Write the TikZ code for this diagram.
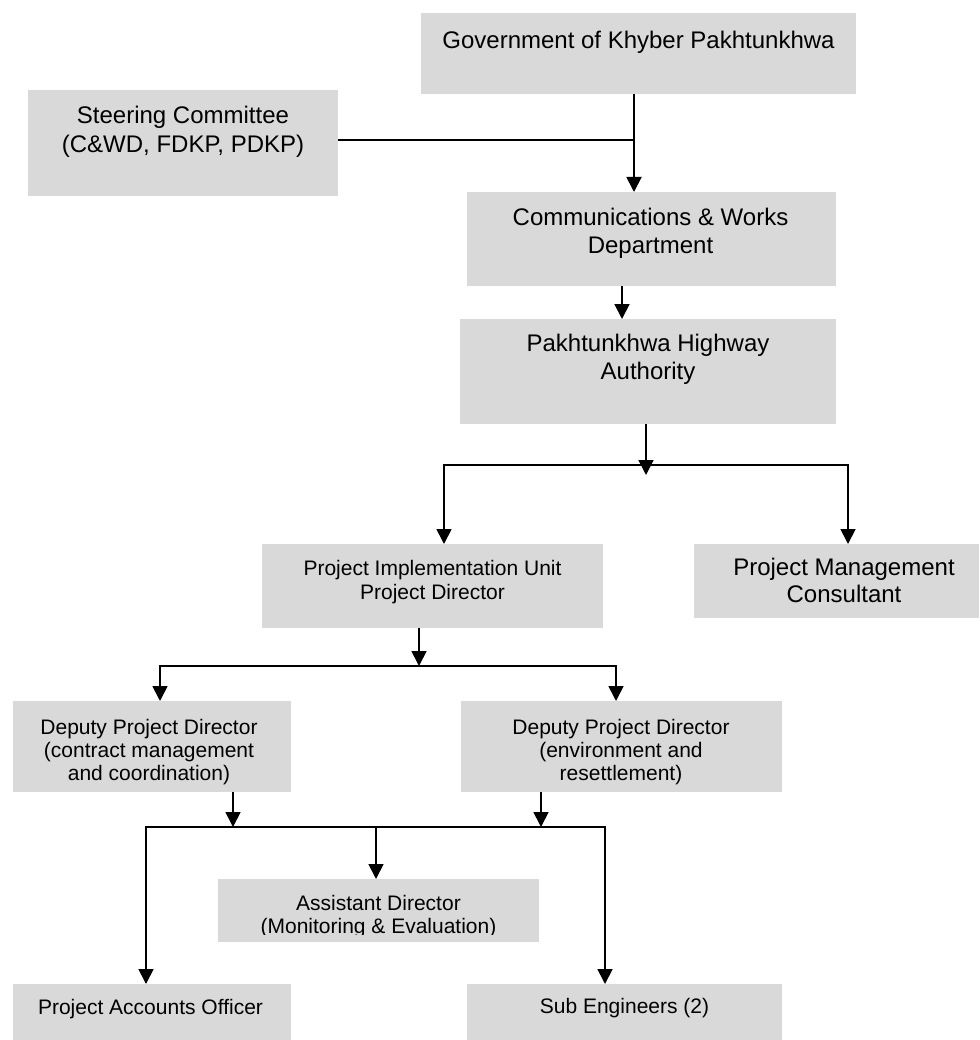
\documentclass[tikz,border=0pt]{standalone}
\usepackage{fontspec}
\setmainfont{Liberation Sans}
\usetikzlibrary{arrows.meta}
\definecolor{boxgray}{RGB}{217,217,217}
\newcommand\fsz[2]{\fontsize{#1}{#2}\selectfont}
\begin{document}
\begin{tikzpicture}[x=1pt,y=-1pt,
  box/.style={fill=boxgray, draw=none, inner sep=0pt, outer sep=0pt, anchor=north west},
  txt/.style={anchor=north, inner sep=0pt, outer sep=0pt, align=center, text=black},
  conn/.style={line width=1.8pt},
  arr/.style={conn, -{Triangle[width=15pt,length=15pt]}},
  both/.style={conn, {Triangle[width=15pt,length=15pt]}-{Triangle[width=15pt,length=15pt]}}]
\useasboundingbox (0,0) rectangle (979,1040);
\fill[white] (0,0) rectangle (979,1040);

% boxes
\node[box, minimum width=435pt, minimum height=81pt]  (gov)   at (421,13)  {};
\node[box, minimum width=310pt, minimum height=106pt] (steer) at (28,90)   {};
\node[box, minimum width=369pt, minimum height=94pt]  (cw)    at (467,192) {};
\node[box, minimum width=376pt, minimum height=105pt] (pha)   at (460,319) {};
\node[box, minimum width=341pt, minimum height=84pt]  (piu)   at (262,544) {};
\node[box, minimum width=285pt, minimum height=74pt]  (pmc)   at (694,544) {};
\node[box, minimum width=278pt, minimum height=91pt]  (dpda)  at (13,701)  {};
\node[box, minimum width=321pt, minimum height=91pt]  (dpdb)  at (461,701) {};
\node[box, minimum width=321pt, minimum height=63pt]  (ad)    at (218,879) {};
\node[box, minimum width=278pt, minimum height=56pt]  (pao)   at (13,984)  {};
\node[box, minimum width=315pt, minimum height=56pt]  (sub)   at (467,984) {};

% texts
\node[txt, font=\fsz{24}{28.8}] (govt) at (638.5,28.4) {\strut Government of Khyber Pakhtunkhwa};
\node[txt, font=\fsz{24}{29}] (steert) at (183,103.3) {\strut Steering Committee\\\strut (C\&WD, FDKP, PDKP)};
\node[txt, font=\fsz{24}{28}] (cwt) at (650.5,206) {\strut Communications \& Works\\\strut Department};
\node[txt, font=\fsz{24}{28}] (phat) at (648,332) {\strut Pakhtunkhwa Highway\\\strut Authority};
\node[txt, font=\fsz{21}{24}] (piut) at (432.5,558.7) {\strut Project Implementation Unit\\\strut Project Director};
\node[txt, font=\fsz{24}{26.5}] (pmct) at (844,557) {\strut Project Management\\\strut Consultant};
\node[txt, font=\fsz{21}{23}] (dpdat) at (149,718.4) {\strut Deputy Project Director\\\strut (contract management\\\strut and coordination)};
\node[txt, font=\fsz{21}{23}] (dpdbt) at (621,718.4) {\strut Deputy Project Director\\\strut (environment and\\\strut resettlement)};
\begin{scope}
  \clip (218,879) rectangle (539,934);
  \node[txt, font=\fsz{21}{22.5}] (adt) at (378.5,894.8) {\strut Assistant Director\\\strut (Monitoring \& Evaluation)};
\end{scope}
\node[txt, font=\fsz{21}{24}] (paot) at (150.5,997.7) {\strut Project Accounts Officer};
\node[txt, font=\fsz{21}{24}] (subt) at (624.5,996.7) {\strut Sub Engineers (2)};

% junction coordinates
\coordinate (j1) at (634,140);
\coordinate (x2) at (622,0);
\coordinate (j3) at (646,465);
\coordinate (l3) at (444,465);
\coordinate (r3) at (848,465);
\coordinate (j4) at (419,666);
\coordinate (l4) at (160,666);
\coordinate (r4) at (616,666);
\coordinate (xa) at (233,827);
\coordinate (xb) at (541,827);
\coordinate (l5) at (146,827);
\coordinate (m5) at (376,827);
\coordinate (r5) at (605,827);

% connectors
\draw[conn] (steer.east |- j1) -- (j1);
\draw[arr] (gov.south -| j1) -- (cw.north -| j1);
\draw[arr] (cw.south -| x2) -- (pha.north -| x2);
\draw[arr] (pha.south -| j3) -- ([yshift=-10pt]j3);
\draw[both] (piu.north -| l3) -- (l3) -- (r3) -- (pmc.north -| r3);
\draw[arr] (piu.south -| j4) -- (j4);
\draw[both] (dpda.north -| l4) -- (l4) -- (r4) -- (dpdb.north -| r4);
\draw[arr] (dpda.south -| xa) -- (xa);
\draw[arr] (dpdb.south -| xb) -- (xb);
\draw[both] (pao.north -| l5) -- (l5) -- (r5) -- (sub.north -| r5);
\draw[arr] (m5) -- (ad.north -| m5);
\end{tikzpicture}
\end{document}
